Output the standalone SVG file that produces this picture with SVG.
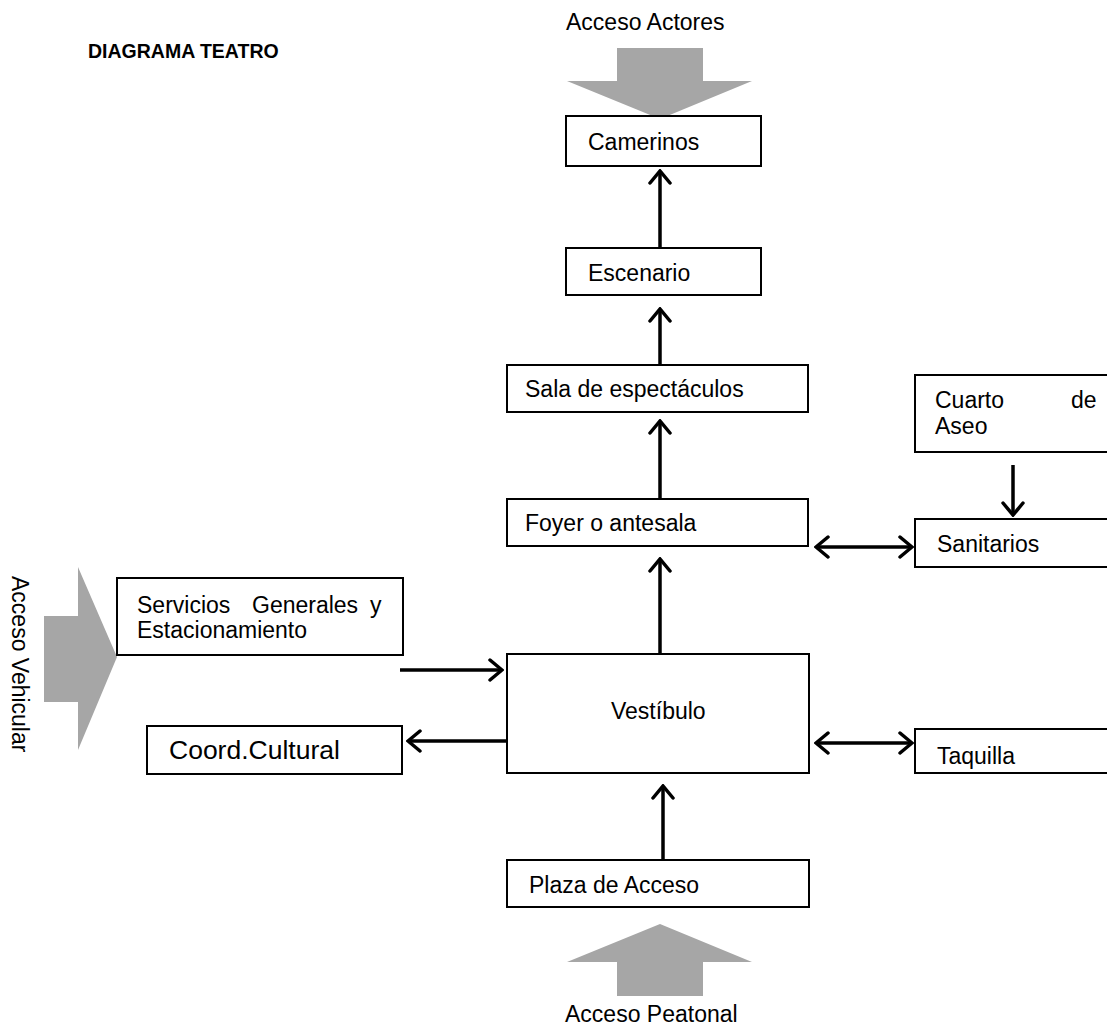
<svg xmlns="http://www.w3.org/2000/svg" width="1107" height="1029" viewBox="0 0 1107 1029">
  <style>
    .box { fill: #ffffff; stroke: #000000; stroke-width: 2; }
    .lbl { font-family: "Liberation Sans", Arial, sans-serif; font-size: 23px; fill: #000000; }
    .big { font-size: 26.5px; }
    .title { font-family: "Liberation Sans", Arial, sans-serif; font-size: 19.5px; font-weight: bold; fill: #000000; }
    .access { fill: #a6a6a6; stroke: none; }
    .link { stroke: #000000; stroke-width: 3.5; fill: none; }
  </style>
  <defs>
    <marker id="head" markerUnits="userSpaceOnUse" viewBox="-15 -12 17 24" refX="0" refY="0" markerWidth="17" markerHeight="24" orient="auto-start-reverse">
      <path d="M-12,-10 L0,0 L-12,10" fill="none" stroke="#000000" stroke-width="3.5" stroke-linecap="round" stroke-linejoin="miter"/>
    </marker>
  </defs>
  <rect width="1107" height="1029" fill="#ffffff"/>

  <text class="title" x="88" y="58">DIAGRAMA TEATRO</text>

  <!-- access arrows -->
  <g id="acceso-actores">
    <polygon class="access" points="617,48 703,48 703,81 752,81 660,119 567,81 617,81"/>
    <text class="lbl" x="566" y="30">Acceso Actores</text>
  </g>
  <g id="acceso-peatonal">
    <polygon class="access" points="660,924 752,962 703,962 703,996 617,996 617,962 567,962"/>
    <text class="lbl" x="565" y="1022">Acceso Peatonal</text>
  </g>
  <g id="acceso-vehicular">
    <polygon class="access" points="44,616 78,616 78,567 117,657 78,750 78,702 44,702"/>
    <text class="lbl" transform="translate(12,576) rotate(90)">Acceso Vehicular</text>
  </g>

  <!-- connectors -->
  <g id="connectors">
    <line class="link" x1="660" y1="248" x2="660" y2="171" marker-end="url(#head)"/>
    <line class="link" x1="660" y1="365" x2="660" y2="309" marker-end="url(#head)"/>
    <line class="link" x1="660" y1="499" x2="660" y2="421" marker-end="url(#head)"/>
    <line class="link" x1="660" y1="654" x2="660" y2="559" marker-end="url(#head)"/>
    <line class="link" x1="663" y1="860" x2="663" y2="786" marker-end="url(#head)"/>
    <line class="link" x1="1013" y1="465" x2="1013" y2="515" marker-end="url(#head)"/>
    <line class="link" x1="816" y1="547" x2="912" y2="547" marker-start="url(#head)" marker-end="url(#head)"/>
    <line class="link" x1="816" y1="743" x2="912" y2="743" marker-start="url(#head)" marker-end="url(#head)"/>
    <line class="link" x1="400" y1="670" x2="502" y2="670" marker-end="url(#head)"/>
    <line class="link" x1="507" y1="741" x2="408" y2="741" marker-end="url(#head)"/>
  </g>

  <!-- spaces -->
  <g id="camerinos">
    <rect class="box" x="566" y="116" width="195" height="50"/>
    <text class="lbl" x="588" y="150">Camerinos</text>
  </g>
  <g id="escenario">
    <rect class="box" x="566" y="248" width="195" height="47"/>
    <text class="lbl" x="588" y="281">Escenario</text>
  </g>
  <g id="sala">
    <rect class="box" x="507" y="365" width="301" height="47"/>
    <text class="lbl" x="525" y="397">Sala de espectáculos</text>
  </g>
  <g id="foyer">
    <rect class="box" x="507" y="499" width="301" height="47"/>
    <text class="lbl" x="525" y="531">Foyer o antesala</text>
  </g>
  <g id="cuarto-aseo">
    <rect class="box" x="915" y="375" width="200" height="77"/>
    <text class="lbl" x="935" y="408">Cuarto</text>
    <text class="lbl" x="1071" y="408">de</text>
    <text class="lbl" x="935" y="434">Aseo</text>
  </g>
  <g id="sanitarios">
    <rect class="box" x="915" y="519" width="200" height="48"/>
    <text class="lbl" x="937" y="552">Sanitarios</text>
  </g>
  <g id="servicios">
    <rect class="box" x="117" y="578" width="286" height="77"/>
    <text class="lbl" x="137" y="613">Servicios</text>
    <text class="lbl" x="252" y="613">Generales</text>
    <text class="lbl" x="370" y="613">y</text>
    <text class="lbl" x="137" y="638">Estacionamiento</text>
  </g>
  <g id="vestibulo">
    <rect class="box" x="507" y="654" width="302" height="119"/>
    <text class="lbl" x="611" y="719">Vestíbulo</text>
  </g>
  <g id="coord-cultural">
    <rect class="box" x="147" y="726" width="255" height="48"/>
    <text class="lbl big" x="169" y="759">Coord.Cultural</text>
  </g>
  <g id="taquilla">
    <rect class="box" x="915" y="729" width="200" height="44"/>
    <text class="lbl" x="937" y="764">Taquilla</text>
  </g>
  <g id="plaza">
    <rect class="box" x="507" y="860" width="302" height="47"/>
    <text class="lbl" x="529" y="893">Plaza de Acceso</text>
  </g>
</svg>
